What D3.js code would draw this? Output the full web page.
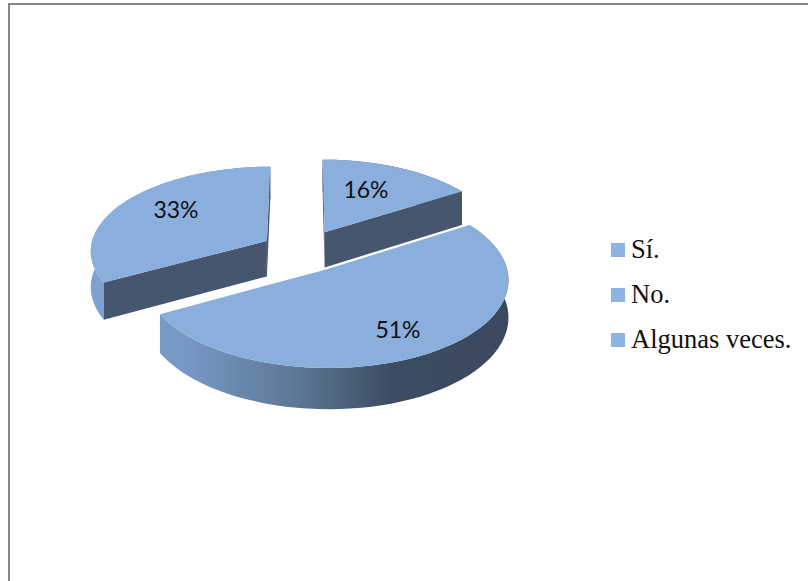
<!DOCTYPE html>
<html>
<head>
<meta charset="utf-8">
<script src="https://cdn.jsdelivr.net/npm/d3@7"></script>
<style>
  html, body { margin: 0; padding: 0; background: #fff; }
  svg { display: block; }
  .pct { font-family: Lato, "Open Sans", sans-serif; font-size: 23px; fill: #111; text-anchor: middle; }
  .legendText { font-family: "Liberation Serif", serif; font-size: 26.5px; fill: #111; }
</style>
</head>
<body>
<div id="chart"></div>
<script>
// Data
var categories = ["Sí.", "No.", "Algunas veces."];
var percents = [16, 51, 33];

var width = 808;
var height = 581;

// Pie placement
var centerX = 303;
var centerY = 251;
var radiusX = 177;
var radiusY = 84;
var perspective = 0.105;
var depth = 36;
var explode = [0.26, 0.25, 0.24];

var topColor = "#8aafdd";
var cutColor = "#46566e";

var svg = d3.select("#chart").append("svg")
  .attr("width", width)
  .attr("height", height);

// Frame, open to the right and the bottom of the picture
svg.append("path")
  .attr("d", d3.line()([[9, height], [9, 4], [width, 4]]))
  .attr("fill", "none")
  .attr("stroke", "#868686")
  .attr("stroke-width", 2);

// Gradient for the round outer walls
var defs = svg.append("defs");
var wall = defs.append("linearGradient")
  .attr("id", "wall")
  .attr("gradientUnits", "userSpaceOnUse")
  .attr("x1", 85).attr("x2", 510).attr("y1", 0).attr("y2", 0);
[[0, "#7fa3d0"], [0.25, "#7597c2"], [0.5, "#5c7795"], [0.72, "#3c4c62"], [1, "#3a495e"]].forEach(function(s) {
  wall.append("stop").attr("offset", s[0]).attr("stop-color", s[1]);
});

// Turn a point of the flat pie into a screen point, drop is the fall to the base
function project(u, v, drop) {
  var s = 1 / (1 - perspective * v);
  return [centerX + radiusX * u * s, centerY + radiusY * v * s + drop * s];
}

var pie = d3.pie().sort(null).value(function(d) { return d; });
var slices = pie(percents);

// One slice, pushed out along its middle direction
function sliceGeom(d, i) {
  var mid = (d.startAngle + d.endAngle) / 2;
  var ox = Math.sin(mid) * explode[i];
  var oy = -Math.cos(mid) * explode[i];
  var steps = d3.range(0, 61).map(function(k) {
    return d.startAngle + (d.endAngle - d.startAngle) * k / 60;
  });
  function rim(drop) {
    return steps.map(function(a) { return project(ox + Math.sin(a), oy - Math.cos(a), drop); });
  }
  return {
    apexTop: project(ox, oy, 0),
    apexBase: project(ox, oy, depth),
    rimTop: rim(0),
    rimBase: rim(depth)
  };
}

// A cut wall only shows when the top face of its slice lies above the cut
function cutShows(apex, end, inner) {
  var dx = end[0] - apex[0];
  var dy = end[1] - apex[1];
  var cross = dx * (inner[1] - apex[1]) - dy * (inner[0] - apex[0]);
  return cross * dx < 0;
}

var line = d3.line().curve(d3.curveLinear);

// Back slices first, the big front slice on top
var order = [0, 2, 1];
order.forEach(function(i) {
  var g = sliceGeom(slices[i], i);
  var group = svg.append("g").attr("class", "slice");
  var last = g.rimTop.length - 1;
  var inner = g.rimTop[30];

  // outer wall
  group.append("path")
    .attr("d", line(g.rimTop.concat(g.rimBase.slice().reverse())) + "Z")
    .attr("fill", "url(#wall)");

  // cut walls
  [0, last].forEach(function(k) {
    if (cutShows(g.apexTop, g.rimTop[k], inner)) {
      group.append("path")
        .attr("d", line([g.apexTop, g.rimTop[k], g.rimBase[k], g.apexBase]) + "Z")
        .attr("fill", cutColor);
    }
  });

  // top face
  group.append("path")
    .attr("d", line([g.apexTop].concat(g.rimTop)) + "Z")
    .attr("fill", topColor);
});

// Percent labels
var labelX = d3.scaleOrdinal().domain(categories).range([366, 398, 176]);
var labelY = d3.scaleOrdinal().domain(categories).range([198, 338, 218]);
svg.selectAll(".pct").data(percents).enter().append("text")
  .attr("class", "pct")
  .attr("x", function(d, i) { return labelX(categories[i]); })
  .attr("y", function(d, i) { return labelY(categories[i]); })
  .text(function(d) { return d + "%"; });

// Legend
var legendY = d3.scalePoint().domain(categories).range([243, 333]);
var legend = svg.selectAll(".legendItem").data(categories).enter().append("g")
  .attr("class", "legendItem")
  .attr("transform", function(d) { return "translate(611," + legendY(d) + ")"; });
legend.append("rect")
  .attr("width", 14)
  .attr("height", 14)
  .attr("fill", "#8eb4e3");
legend.append("text")
  .attr("class", "legendText")
  .attr("x", 20)
  .attr("y", 15)
  .text(function(d) { return d; });
</script>
</body>
</html>
